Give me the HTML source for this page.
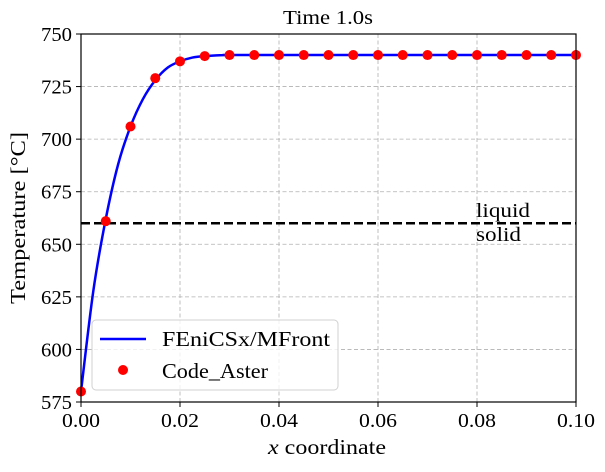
<!DOCTYPE html>
<html><head><meta charset="utf-8"><style>
body{margin:0;background:#fff}
svg{font-family:"Liberation Serif",serif}
</style></head><body>
<svg id="chart" width="605" height="467" viewBox="0 0 605 467" xmlns="http://www.w3.org/2000/svg">
<g id="grid"></g>
<g id="marks"></g>
<g id="axes"></g>
</svg>
<script>
const xTicks=[0,0.02,0.04,0.06,0.08,0.10];
const xTickLabels=["0.00","0.02","0.04","0.06","0.08","0.10"];
const yTicks=[575,600,625,650,675,700,725,750];
const lineX=[0,0.0025,0.005,0.0075,0.01,0.0125,0.015,0.0175,0.02,0.0225,0.025,0.03,0.035,0.1];
const lineY=[580,628,662,688,706,719,728,734,737,738.8,739.5,740,740,740];
const asterX=[0,0.005,0.01,0.015,0.02,0.025,0.03,0.035,0.04,0.045,0.05,0.055,0.06,0.065,0.07,0.075,0.08,0.085,0.09,0.095,0.1];
const asterY=[580,661,706,729,737,739.5,740,740,740,740,740,740,740,740,740,740,740,740,740,740,740];
const solidusT=660;
const L=81,R=576,T=34,B=402;
const sx=v=>L+(v-0)/(0.1)*(R-L);
const sy=v=>B-(v-575)/(175)*(B-T);
const NS="http://www.w3.org/2000/svg";
function mk(tag,attrs,parent,text){const e=document.createElementNS(NS,tag);for(const k in attrs)e.setAttribute(k,attrs[k]);if(text!==undefined)e.textContent=text;parent.appendChild(e);return e;}
const grid=document.getElementById('grid'),marks=document.getElementById('marks'),axes=document.getElementById('axes');
xTicks.forEach((t,i)=>{
 const g=mk('line',{x1:sx(t),x2:sx(t),y1:T,y2:B,stroke:'#b0b0b0','stroke-width':0.8,'stroke-dasharray':'4,2.5'},grid);
 
 
 mk('line',{x1:sx(t),x2:sx(t),y1:B,y2:B+5,stroke:'#000'},axes);
 const l=mk('text',{x:sx(t),y:B+25,'text-anchor':'middle','font-size':20,textLength:38,lengthAdjust:'spacingAndGlyphs'},axes,xTickLabels[i]);
 
 
});
yTicks.forEach(t=>{
 const g=mk('line',{x1:L,x2:R,y1:sy(t),y2:sy(t),stroke:'#b0b0b0','stroke-width':0.8,'stroke-dasharray':'4,2.5'},grid);
 
 
 mk('line',{x1:L-5,x2:L,y1:sy(t),y2:sy(t),stroke:'#000'},axes);
 const l=mk('text',{x:L-9,y:sy(t)+7,'text-anchor':'end','font-size':20,textLength:31,lengthAdjust:'spacingAndGlyphs'},axes,String(t));
 
 
});
const dash=mk('line',{x1:L,x2:R,y1:sy(solidusT),y2:sy(solidusT),stroke:'#000','stroke-width':2.5,'stroke-dasharray':'9,4'},marks);


let pts=lineX.map((x,i)=>[sx(x),sy(lineY[i])]);
let d='M'+pts[0][0]+','+pts[0][1];
for(let i=0;i<pts.length-1;i++){const p0=pts[Math.max(i-1,0)],p1=pts[i],p2=pts[i+1],p3=pts[Math.min(i+2,pts.length-1)];
 d+=` C${p1[0]+(p2[0]-p0[0])/6},${p1[1]+(p2[1]-p0[1])/6} ${p2[0]-(p3[0]-p1[0])/6},${p2[1]-(p3[1]-p1[1])/6} ${p2[0]},${p2[1]}`;}
const ln=mk('path',{d:d,fill:'none',stroke:'#0000ff','stroke-width':2.5},marks);


asterX.forEach((x,i)=>{
 const c=mk('circle',{cx:sx(x),cy:sy(asterY[i]),r:5,fill:'#ff0000'},marks);
 
 
});
const frame=mk('rect',{x:L,y:T,width:R-L,height:B-T,fill:'none',stroke:'#000','stroke-width':1.2},axes);


const t1=mk('text',{x:476,y:217,'font-size':20,textLength:54,lengthAdjust:'spacingAndGlyphs'},axes,'liquid');


const t2=mk('text',{x:476,y:241,'font-size':20,textLength:45,lengthAdjust:'spacingAndGlyphs'},axes,'solid');


const ti=mk('text',{x:328,y:24,'text-anchor':'middle','font-size':20,textLength:90,lengthAdjust:'spacingAndGlyphs'},axes,'Time 1.0s');


const xl=mk('text',{x:327,y:454,'text-anchor':'middle','font-size':21,textLength:118,lengthAdjust:'spacingAndGlyphs'},axes);
xl.innerHTML='<tspan font-style="italic">x</tspan> coordinate';


const yl=mk('text',{x:0,y:0,'text-anchor':'middle','font-size':21,textLength:172,lengthAdjust:'spacingAndGlyphs',transform:`translate(25,${(T+B)/2}) rotate(-90)`},axes,'Temperature [°C]');


const leg=mk('g',{},axes);


mk('rect',{x:92,y:320,width:246,height:70,rx:4,fill:'rgba(255,255,255,0.8)',stroke:'#d0d0d0'},leg);
mk('line',{x1:100,x2:146,y1:339,y2:339,stroke:'#0000ff','stroke-width':2.5},leg);
const le1=mk('text',{x:162,y:346,'font-size':21,textLength:168,lengthAdjust:'spacingAndGlyphs'},leg,'FEniCSx/MFront');


mk('circle',{cx:123,cy:370,r:5,fill:'#ff0000'},leg);
const le2=mk('text',{x:162,y:378,'font-size':21,textLength:106,lengthAdjust:'spacingAndGlyphs'},leg,'Code_Aster');


</script>
</body></html>
